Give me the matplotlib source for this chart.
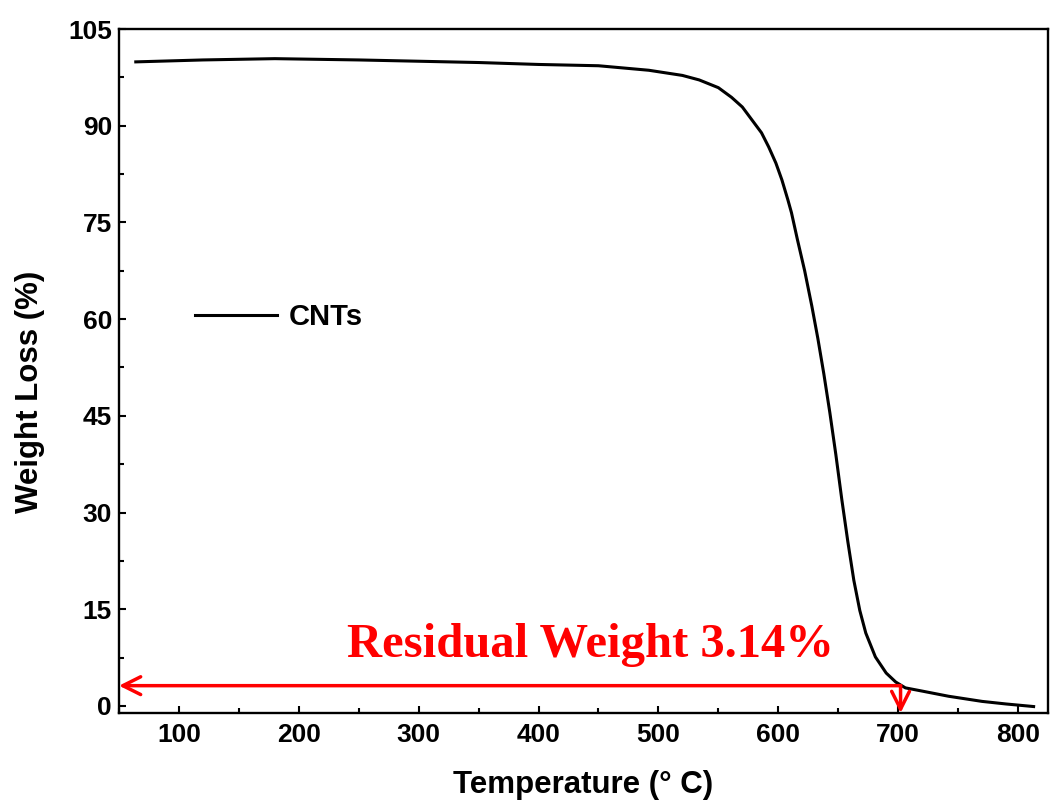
import matplotlib
matplotlib.use('Agg')
import matplotlib.pyplot as plt
from matplotlib.ticker import MultipleLocator

# TGA curve of the CNTs
temp = [64, 120, 180, 250, 300, 350, 400, 450, 492, 520, 534, 550, 561, 570,
        578, 586, 592, 598, 603, 608, 611, 616, 622, 628, 633, 638, 643, 648,
        653, 658, 663, 668, 673, 681, 690, 698, 706, 720, 742, 770, 790, 813]
weight = [99.9, 100.2, 100.4, 100.2, 100.0, 99.8, 99.5, 99.3, 98.6, 97.8, 97.1,
          95.9, 94.4, 92.9, 90.9, 88.9, 86.7, 84.2, 81.6, 78.5, 76.5, 72.3, 67.5,
          62.0, 57.0, 51.5, 45.5, 39.0, 32.0, 25.5, 19.5, 14.8, 11.3, 7.6, 5.1,
          3.7, 2.8, 2.3, 1.5, 0.7, 0.3, -0.1]

residual = 3.14
residual_temp = 702
xticks = [100, 200, 300, 400, 500, 600, 700, 800]
yticks = [0, 15, 30, 45, 60, 75, 90, 105]

sans = 'Liberation Sans'
serif = 'Liberation Serif'

fig = plt.figure(figsize=(10.5, 8.07), dpi=100)
ax = fig.add_axes([119/1050, 1-713/807, (1048-119)/1050, (713-29)/807])

ax.plot(temp, weight, color='black', lw=2.2, label='CNTs')

# residual weight arrows
ax.annotate('', xy=(50, residual), xytext=(residual_temp, residual),
            arrowprops=dict(arrowstyle='->', color='red', lw=2.5,
                            mutation_scale=32, shrinkA=0, shrinkB=0))
ax.annotate('', xy=(residual_temp, -1.1), xytext=(residual_temp, residual),
            arrowprops=dict(arrowstyle='->', color='red', lw=2.5,
                            mutation_scale=32, shrinkA=0, shrinkB=0))
ax.text(443, 7.6, 'Residual Weight 3.14%', ha='center', va='baseline',
        fontsize=35, color='red', fontweight='bold', family=serif)

ax.set_xlim(50, 825)
ax.set_ylim(-1.1, 105)
ax.set_xticks(xticks)
ax.set_yticks(yticks)
ax.xaxis.set_minor_locator(MultipleLocator(50))
ax.yaxis.set_minor_locator(MultipleLocator(7.5))
ax.tick_params(which='both', direction='in', top=False, right=False, width=1.5)
ax.tick_params(which='major', length=5)
ax.tick_params(which='minor', length=3.5)
ax.tick_params(axis='y', pad=5)
ax.tick_params(axis='x', pad=7)
for lab in ax.get_xticklabels() + ax.get_yticklabels():
    lab.set_fontfamily(sans)
    lab.set_fontweight('bold')
    lab.set_fontsize(19)
for s in ax.spines.values():
    s.set_linewidth(1.7)

ax.set_xlabel('Temperature (° C)', fontsize=22.5, fontweight='bold', family=sans)
ax.set_ylabel('Weight Loss (%)', fontsize=22.5, fontweight='bold', family=sans)
ax.xaxis.set_label_coords(0.5, -0.083)
ax.yaxis.set_label_coords(-0.096, 0.469)
ax.yaxis.label.set_va('center')

ax.legend(loc='center left', bbox_to_anchor=(0.082, 0.579), frameon=False,
          borderpad=0, borderaxespad=0, handlelength=2.8, handletextpad=0.4,
          prop={'family': sans, 'weight': 'bold', 'size': 21})

fig.savefig('out.png', dpi=100)
